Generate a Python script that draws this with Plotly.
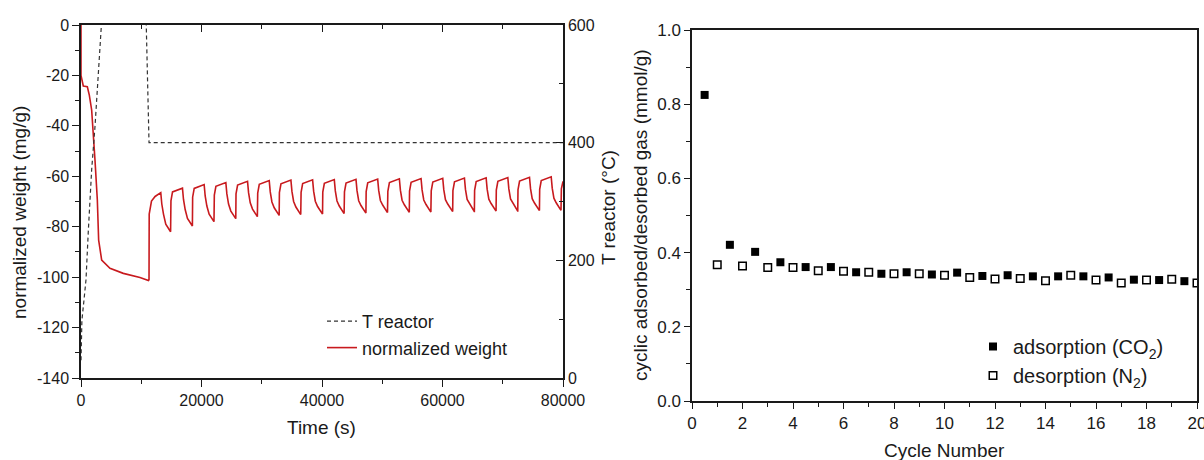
import plotly.graph_objects as go

# ---------------- data ----------------
# Left panel: normalized weight (mg/g) vs time (s)
weight_time = [
    0, 0, 380, 1050, 1380, 1770, 2320, 2710, 2930, 3150, 3430, 4810, 7020, 9790, 10900, 11200,
    11290, 11320, 11700, 12300, 13240, 13410, 13690, 14070, 14870,
    14890, 14930, 15190, 16840, 17010, 17290, 17670, 18470,
    18490, 18530, 18790, 20440, 20610, 20890, 21270, 22070,
    22090, 22130, 22390, 24040, 24210, 24490, 24870, 25670,
    25690, 25730, 25990, 27640, 27810, 28090, 28470, 29270,
    29290, 29330, 29590, 31240, 31410, 31690, 32070, 32870,
    32890, 32930, 33190, 34840, 35010, 35290, 35670, 36470,
    36490, 36530, 36790, 38440, 38610, 38890, 39270, 40070,
    40090, 40130, 40390, 42040, 42210, 42490, 42870, 43670,
    43690, 43730, 43990, 45640, 45810, 46090, 46470, 47270,
    47290, 47330, 47590, 49240, 49410, 49690, 50070, 50870,
    50890, 50930, 51190, 52840, 53010, 53290, 53670, 54470,
    54490, 54530, 54790, 56440, 56610, 56890, 57270, 58070,
    58090, 58130, 58390, 60040, 60210, 60490, 60870, 61670,
    61690, 61730, 61990, 63640, 63810, 64090, 64470, 65270,
    65290, 65330, 65590, 67240, 67410, 67690, 68070, 68870,
    68890, 68930, 69190, 70840, 71010, 71290, 71670, 72470,
    72490, 72530, 72790, 74440, 74610, 74890, 75270, 76070,
    76090, 76130, 76390, 78040, 78210, 78490, 78870, 79670,
    79690, 79730, 80000,
]
weight_value = [
    0, -20.0, -24.2, -24.5, -27.8, -33.7, -53.5, -69.4, -85.3, -89.2, -93.2, -96.5, -98.5, -100.1, -101.1, -101.3,
    -101.0, -75.0, -69.8, -68.0, -66.5, -71.0, -75.0, -79.0, -82.0,
    -82.0, -69.7, -66.2, -64.7, -69.2, -73.2, -76.7, -79.7,
    -79.7, -68.3, -64.8, -63.3, -67.8, -71.8, -75.0, -78.0,
    -78.0, -67.5, -64.0, -62.5, -67.0, -71.0, -73.8, -76.8,
    -76.8, -67.0, -63.5, -62.0, -66.5, -70.5, -73.0, -76.0,
    -76.0, -66.7, -63.2, -61.7, -66.2, -70.2, -72.5, -75.5,
    -75.5, -66.5, -63.0, -61.5, -66.0, -70.0, -72.2, -75.2,
    -75.2, -66.4, -62.9, -61.4, -65.9, -69.9, -72.0, -75.0,
    -75.0, -66.3, -62.8, -61.3, -65.8, -69.8, -71.8, -74.8,
    -74.8, -66.2, -62.7, -61.2, -65.7, -69.7, -71.6, -74.6,
    -74.6, -66.1, -62.6, -61.1, -65.6, -69.6, -71.4, -74.4,
    -74.4, -66.0, -62.5, -61.0, -65.5, -69.5, -71.3, -74.3,
    -74.3, -65.9, -62.4, -60.9, -65.4, -69.4, -71.2, -74.2,
    -74.2, -65.8, -62.3, -60.8, -65.3, -69.3, -71.0, -74.0,
    -74.0, -65.7, -62.2, -60.7, -65.2, -69.2, -70.9, -73.9,
    -73.9, -65.6, -62.1, -60.6, -65.1, -69.1, -70.8, -73.8,
    -73.8, -65.5, -62.0, -60.5, -65.0, -69.0, -70.7, -73.7,
    -73.7, -65.4, -61.9, -60.4, -64.9, -68.9, -70.6, -73.6,
    -73.6, -65.2, -61.7, -60.2, -64.7, -68.7, -70.5, -73.5,
    -73.5, -65.0, -62.0,
]

# Left panel: reactor temperature (°C, right axis) vs time (s)
temp_time = [0, 150, 500, 830, 1220, 1770, 2320, 2870, 3430, 4000, 10600, 10800, 11290, 11500, 80000]
temp_value = [30, 98, 133, 167, 251, 354, 427, 518, 600, 700, 700, 600, 400, 400, 400]

# Right panel: cyclic adsorbed / desorbed gas (mmol/g) vs cycle number
ads_cycle = [0.5, 1.5, 2.5, 3.5, 4.5, 5.5, 6.5, 7.5, 8.5, 9.5,
             10.5, 11.5, 12.5, 13.5, 14.5, 15.5, 16.5, 17.5, 18.5, 19.5]
ads_value = [0.825, 0.421, 0.402, 0.374, 0.361, 0.361, 0.347, 0.343, 0.347, 0.341,
             0.346, 0.337, 0.339, 0.336, 0.336, 0.336, 0.333, 0.327, 0.326, 0.323]
des_cycle = [1, 2, 3, 4, 5, 6, 7, 8, 9, 10,
             11, 12, 13, 14, 15, 16, 17, 18, 19, 20]
des_value = [0.367, 0.364, 0.360, 0.360, 0.351, 0.350, 0.347, 0.343, 0.343, 0.339,
             0.333, 0.329, 0.330, 0.324, 0.339, 0.326, 0.318, 0.326, 0.328, 0.318]

# Tick labels
weight_ticks = [0, -20, -40, -60, -80, -100, -120, -140]
weight_ticktext = ["0", "-20", "-40", "-60", "-80", "-100", "-120", "-140"]
time_ticks = [0, 20000, 40000, 60000, 80000]
time_ticktext = ["0", "20000", "40000", "60000", "80000"]
temp_ticks = [0, 200, 400, 600]
temp_ticktext = ["0", "200", "400", "600"]
cycle_ticks = [0, 2, 4, 6, 8, 10, 12, 14, 16, 18, 20]
cycle_ticktext = ["0", "2", "4", "6", "8", "10", "12", "14", "16", "18", "20"]
gas_ticks = [0.0, 0.2, 0.4, 0.6, 0.8, 1.0]
gas_ticktext = ["0.0", "0.2", "0.4", "0.6", "0.8", "1.0"]

# ---------------- figure ----------------
W, H = 1204, 460
FONT = "Liberation Sans, Arial, Helvetica, sans-serif"
INK = "#1a1a1a"


def px_x(p):
    return p / W


def px_y(p):
    return (H - p) / H


fig = go.Figure()
fig.add_trace(go.Scatter(
    x=temp_time, y=temp_value, xaxis="x2", yaxis="y2", mode="lines",
    name="T reactor", legend="legend",
    line=dict(color="#333333", width=1.2, dash="4px,3px"),
))
fig.add_trace(go.Scatter(
    x=weight_time, y=weight_value, xaxis="x", yaxis="y", mode="lines",
    name="normalized weight", legend="legend",
    line=dict(color="#c81a1e", width=1.6),
))
fig.add_trace(go.Scatter(
    x=ads_cycle, y=ads_value, xaxis="x3", yaxis="y3", mode="markers",
    name="adsorption (CO<sub>2</sub>)", legend="legend2",
    marker=dict(symbol="square", size=8, color="black"),
))
fig.add_trace(go.Scatter(
    x=des_cycle, y=des_value, xaxis="x3", yaxis="y3", mode="markers",
    name="desorption (N<sub>2</sub>)", legend="legend2",
    marker=dict(symbol="square-open", size=7.5, color="black", line=dict(width=1.5, color="black")),
))

common = dict(showgrid=False, zeroline=False, showline=True, linecolor=INK, linewidth=1.5,
              tickcolor=INK, tickwidth=1.3, ticklabeloverflow="allow")
left_dom_x = [px_x(81), px_x(563)]
left_dom_y = [px_y(378), px_y(25)]
right_dom_x = [px_x(692), px_x(1197)]
right_dom_y = [px_y(401), px_y(30)]
tf_left = dict(family=FONT, size=16, color=INK)
tf_right = dict(family=FONT, size=17, color=INK)


def minor(d, side):
    return dict(tickmode="linear", dtick=d, ticks=side, ticklen=4, tickcolor=INK, tickwidth=1.3)


fig.update_layout(
    width=W, height=H,
    margin=dict(l=0, r=0, t=0, b=0, autoexpand=False),
    paper_bgcolor="white", plot_bgcolor="white",
    showlegend=True,
    xaxis=dict(**common, domain=left_dom_x, anchor="y", range=[0, 80000],
               tickmode="array", tickvals=time_ticks, ticktext=time_ticktext,
               ticks="outside", ticklen=7, tickfont=tf_left, minor=minor(10000, "outside")),
    xaxis2=dict(**common, overlaying="x", anchor="y2", side="top", range=[0, 80000],
                tickmode="array", tickvals=time_ticks, showticklabels=False,
                ticks="inside", ticklen=7, minor=minor(10000, "inside")),
    yaxis=dict(**common, domain=left_dom_y, anchor="x", range=[-140, 0],
               tickmode="array", tickvals=weight_ticks, ticktext=weight_ticktext,
               ticks="outside", ticklen=7, tickfont=tf_left, minor=minor(10, "outside")),
    yaxis2=dict(**common, overlaying="y", anchor="x2", side="right", range=[0, 600],
                tickmode="array", tickvals=temp_ticks, ticktext=temp_ticktext,
                ticks="inside", ticklen=7, tickfont=tf_left, minor=minor(100, "inside")),
    xaxis3=dict(**common, domain=right_dom_x, anchor="y3", range=[0, 20], mirror=True,
                tickmode="array", tickvals=cycle_ticks, ticktext=cycle_ticktext,
                ticks="outside", ticklen=6, tickfont=tf_right, minor=minor(1, "outside")),
    yaxis3=dict(**common, domain=right_dom_y, anchor="x3", range=[0, 1], mirror=True,
                tickmode="array", tickvals=gas_ticks, ticktext=gas_ticktext,
                ticks="outside", ticklen=6, tickfont=tf_right, minor=minor(0.1, "outside")),
    legend=dict(x=px_x(322), y=px_y(303), xanchor="left", yanchor="top",
                bgcolor="rgba(0,0,0,0)", borderwidth=0,
                font=dict(family=FONT, size=18, color=INK), tracegroupgap=0),
    legend2=dict(x=px_x(973), y=px_y(327), xanchor="left", yanchor="top",
                 bgcolor="rgba(0,0,0,0)", borderwidth=0,
                 font=dict(family=FONT, size=20, color=INK), tracegroupgap=0),
)

title_font = dict(family=FONT, size=19, color=INK)
annos = [
    dict(text="normalized weight (mg/g)", x=px_x(19), y=px_y(213), textangle=-90),
    dict(text="T reactor (°C)", x=px_x(608), y=px_y(208), textangle=-90),
    dict(text="Time (s)", x=px_x(322), y=px_y(427), textangle=0),
    dict(text="cyclic adsorbed/desorbed gas (mmol/g)", x=px_x(641), y=px_y(215), textangle=-90),
    dict(text="Cycle Number", x=px_x(944), y=px_y(450), textangle=0),
]
for a in annos:
    fig.add_annotation(xref="paper", yref="paper", xanchor="center", yanchor="middle",
                       showarrow=False, font=title_font, **a)

fig.write_html("out.html")
